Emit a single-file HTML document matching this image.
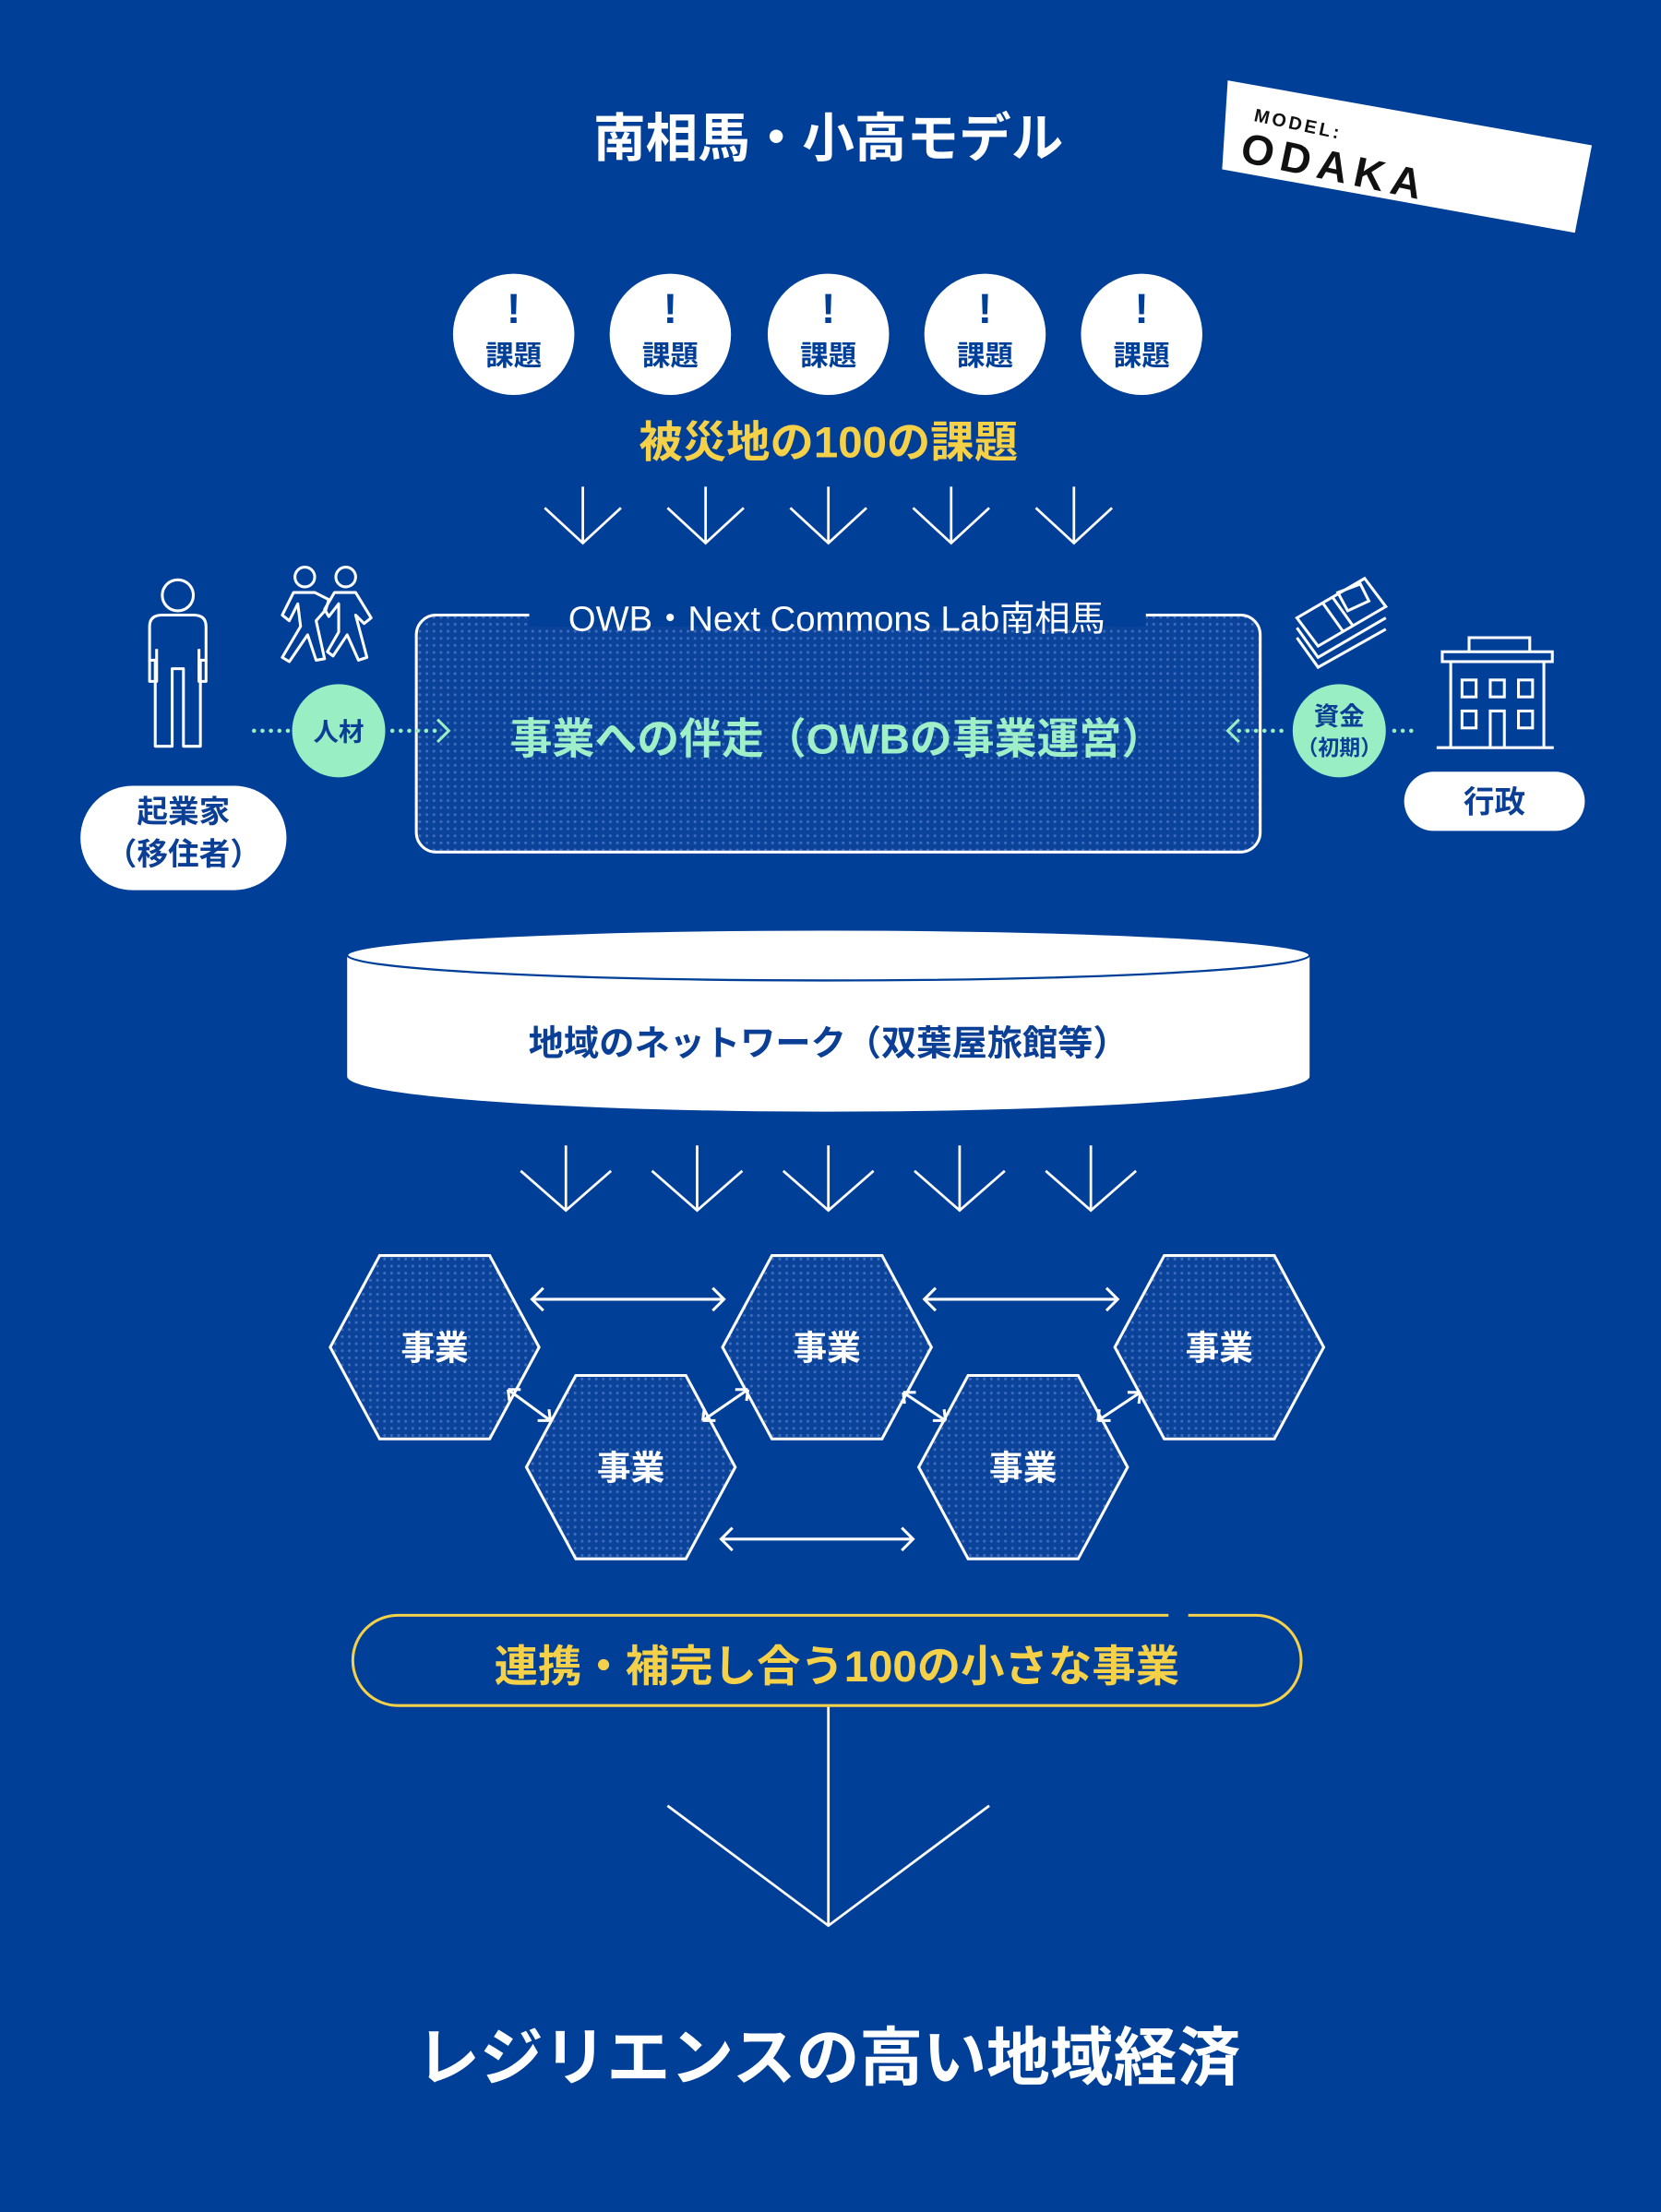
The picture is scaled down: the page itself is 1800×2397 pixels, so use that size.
<!DOCTYPE html>
<html><head><meta charset="utf-8"><style>
html,body{margin:0;padding:0;background:#003f98;}
svg{display:block}
text{font-family:"Liberation Sans","Noto Sans CJK JP",sans-serif;font-weight:bold;}
text.n{font-weight:normal;}
</style></head><body>
<svg width="1800" height="2397" viewBox="0 0 1177 1568" preserveAspectRatio="none" xmlns="http://www.w3.org/2000/svg">
<defs>
<pattern id="dots" width="5" height="5" patternUnits="userSpaceOnUse">
<rect width="5" height="5" fill="#0a4399"/>
<circle cx="2.5" cy="2.5" r="1" fill="#3b6cbf"/>
</pattern>
</defs>
<rect width="1177" height="1568" fill="#003f98"/>

<text x="587" y="111" font-size="37" fill="#fff" text-anchor="middle">南相馬・小高モデル</text>

<polygon points="870,57 1128,103 1116,165 866,120" fill="#fff"/>
<g transform="rotate(12 880 85)">
<text x="888" y="84" font-size="13" fill="#111" font-weight="900" letter-spacing="2">MODEL:</text>
<text x="884" y="114" font-size="30" fill="#111" font-weight="900" letter-spacing="5">ODAKA</text>
</g>

<g fill="#fff">
<circle cx="364" cy="237" r="43"/><circle cx="475" cy="237" r="43"/><circle cx="587" cy="237" r="43"/><circle cx="698" cy="237" r="43"/><circle cx="809" cy="237" r="43"/>
</g>
<g fill="#003f98" font-size="20" text-anchor="middle">
<text x="364" y="229" font-size="30">!</text><text x="364" y="259">課題</text>
<text x="475" y="229" font-size="30">!</text><text x="475" y="259">課題</text>
<text x="587" y="229" font-size="30">!</text><text x="587" y="259">課題</text>
<text x="698" y="229" font-size="30">!</text><text x="698" y="259">課題</text>
<text x="809" y="229" font-size="30">!</text><text x="809" y="259">課題</text>
</g>
<text x="587" y="324" font-size="31" fill="#f5d14a" text-anchor="middle">被災地の100の課題</text>

<g stroke="#fff" stroke-width="1.8" fill="none">
<path d="M413 345V385M386 360L413 385L440 360"/>
<path d="M500 345V385M473 360L500 385L527 360"/>
<path d="M587 345V385M560 360L587 385L614 360"/>
<path d="M674 345V385M647 360L674 385L701 360"/>
<path d="M761 345V385M734 360L761 385L788 360"/>
</g>

<rect x="295" y="436" width="598" height="168" rx="14" fill="url(#dots)" stroke="#fff" stroke-width="2"/>
<rect x="375" y="428" width="437" height="16" fill="#003f98"/>
<text class="n" x="593" y="447" font-size="25" fill="#fff" text-anchor="middle">OWB・Next Commons Lab南相馬</text>
<text x="593" y="534" font-size="30" fill="#9ff0c8" text-anchor="middle">事業への伴走（OWBの事業運営）</text>

<!-- person -->
<g stroke="#fff" stroke-width="2" fill="none" stroke-linejoin="round">
<circle cx="126" cy="422" r="11"/>
<path d="M110 529V468H106V444Q106 436 115 436H137Q146 436 146 444V468H142V529H130V474H122V529Z"/>
<path d="M106 468 L106 483 L111 483 L111 460 M146 468 L146 483 L141 483 L141 460"/>
</g>
<!-- walkers -->
<g stroke="#fff" stroke-width="2" fill="none" stroke-linejoin="round">
<circle cx="216" cy="409" r="7"/><circle cx="245" cy="409" r="7"/>
<path d="M208 420 L200 436 L205 440 L211 428 L213 444 L200 466 L205 469 L218 450 L224 468 L230 467 L224 440 L231 432 L233 425 L223 420 Z"/>
<path d="M237 420 L230 432 L233 437 L240 428 L240 448 L232 462 L236 465 L246 450 L254 468 L260 466 L252 436 L258 442 L263 438 L252 420 Z"/>
</g>
<!-- money -->
<g stroke="#fff" stroke-width="2" fill="none">
<path d="M919 438 L967 410 L982 430 L934 458 Z"/>
<path d="M919 445 L934 466 L982 438"/>
<path d="M919 452 L934 473 L982 446"/>
<path d="M937 427 L952 448 M944 423 L959 444"/>
<path d="M948 420 L964 414 L970 426 L955 433 Z"/>
</g>
<!-- building -->
<g stroke="#fff" stroke-width="2" fill="none">
<path d="M1041 462V452H1084V462"/>
<rect x="1022" y="462" width="78" height="7"/>
<path d="M1028 469V530M1094 469V530M1018 530H1101"/>
<rect x="1036" y="482" width="10" height="12"/><rect x="1056" y="482" width="10" height="12"/><rect x="1076" y="482" width="10" height="12"/>
<rect x="1036" y="504" width="10" height="12"/><rect x="1076" y="504" width="10" height="12"/>
<path d="M1056 530V504H1066V530"/>
</g>

<g fill="#9aeec4">
<circle cx="240" cy="518" r="33"/><circle cx="949" cy="518" r="33"/>
</g>
<g stroke="#9aeec4" stroke-width="3" stroke-linecap="round" stroke-dasharray="0 6" fill="none">
<path d="M180 518H206"/><path d="M278 518H312"/>
<path d="M878 518H912"/><path d="M988 518H1004"/>
</g>
<g stroke="#9aeec4" stroke-width="2" fill="none">
<path d="M310 510L318 518L310 526"/><path d="M878 510L870 518L878 526"/>
</g>
<text x="240" y="525" font-size="18" fill="#0a3f95" text-anchor="middle">人材</text>
<text x="949" y="514" font-size="18" fill="#0a3f95" text-anchor="middle">資金</text>
<text x="949" y="535" font-size="15" fill="#0a3f95" text-anchor="middle">（初期）</text>

<rect x="57" y="557" width="146" height="74" rx="37" fill="#fff"/>
<text x="130" y="583" font-size="22" fill="#0a3f95" text-anchor="middle">起業家</text>
<text x="130" y="613" font-size="22" fill="#0a3f95" text-anchor="middle">（移住者）</text>
<rect x="995" y="547" width="128" height="42" rx="21" fill="#fff"/>
<text x="1059" y="576" font-size="22" fill="#0a3f95" text-anchor="middle">行政</text>

<!-- cylinder -->
<path d="M246 677 V763 A341 25 0 0 0 928 763 V677 Z" fill="#fff"/>
<ellipse cx="587" cy="677" rx="341" ry="18" fill="#fff" stroke="#003f98" stroke-width="1.5"/>
<text x="587" y="748" font-size="25" fill="#0a3f95" text-anchor="middle">地域のネットワーク（双葉屋旅館等）</text>

<g stroke="#fff" stroke-width="1.8" fill="none">
<path d="M401 812V858M369 830L401 858L433 830"/>
<path d="M494 812V858M462 830L494 858L526 830"/>
<path d="M587 812V858M555 830L587 858L619 830"/>
<path d="M680 812V858M648 830L680 858L712 830"/>
<path d="M773 812V858M741 830L773 858L805 830"/>
</g>

<!-- hexagons -->
<g fill="url(#dots)" stroke="#fff" stroke-width="2">
<polygon points="234,955 269,890 347,890 382,955 347,1020 269,1020"/>
<polygon points="512,955 547,890 625,890 660,955 625,1020 547,1020"/>
<polygon points="790,955 825,890 903,890 938,955 903,1020 825,1020"/>
<polygon points="373,1040 408,975 486,975 521,1040 486,1105 408,1105"/>
<polygon points="651,1040 686,975 764,975 799,1040 764,1105 686,1105"/>
</g>
<g font-size="24" fill="#fff" text-anchor="middle">
<text x="308" y="964">事業</text><text x="586" y="964">事業</text><text x="864" y="964">事業</text>
<text x="447" y="1049">事業</text><text x="725" y="1049">事業</text>
</g>

<g stroke="#fff" stroke-width="2" fill="none">
<path d="M377 921H513M385 913L377 921L385 929M505 913L513 921L505 929"/>
<path d="M655 921H792M663 913L655 921L663 929M784 913L792 921L784 929"/>
<path d="M511 1091H647M519 1083L511 1091L519 1099M639 1083L647 1091L639 1099"/>
<path d="M360 985L390 1007M360 985L369 985M360 985L361 993M390 1007L381 1007M390 1007L389 999"/>
<path d="M498 1007L530 985M498 1007L507 1007M498 1007L499 999M530 985L521 985M530 985L529 993"/>
<path d="M640 987L670 1007M640 987L649 987M640 987L641 995M670 1007L661 1007M670 1007L669 999"/>
<path d="M778 1007L808 987M778 1007L787 1007M778 1007L779 999M808 987L799 987M808 987L807 995"/>
</g>

<rect x="250" y="1145" width="672" height="64" rx="32" fill="none" stroke="#f5d14a" stroke-width="2"/>
<rect x="828" y="1140" width="14" height="10" fill="#003f98"/>
<text x="593" y="1192" font-size="31" fill="#f5d14a" text-anchor="middle">連携・補完し合う100の小さな事業</text>

<g stroke="#fff" stroke-width="1.8" fill="none">
<path d="M587 1210V1365M473 1280L587 1365L701 1280"/>
</g>

<text x="587" y="1474" font-size="45" fill="#fff" text-anchor="middle">レジリエンスの高い地域経済</text>
</svg>
</body></html>
